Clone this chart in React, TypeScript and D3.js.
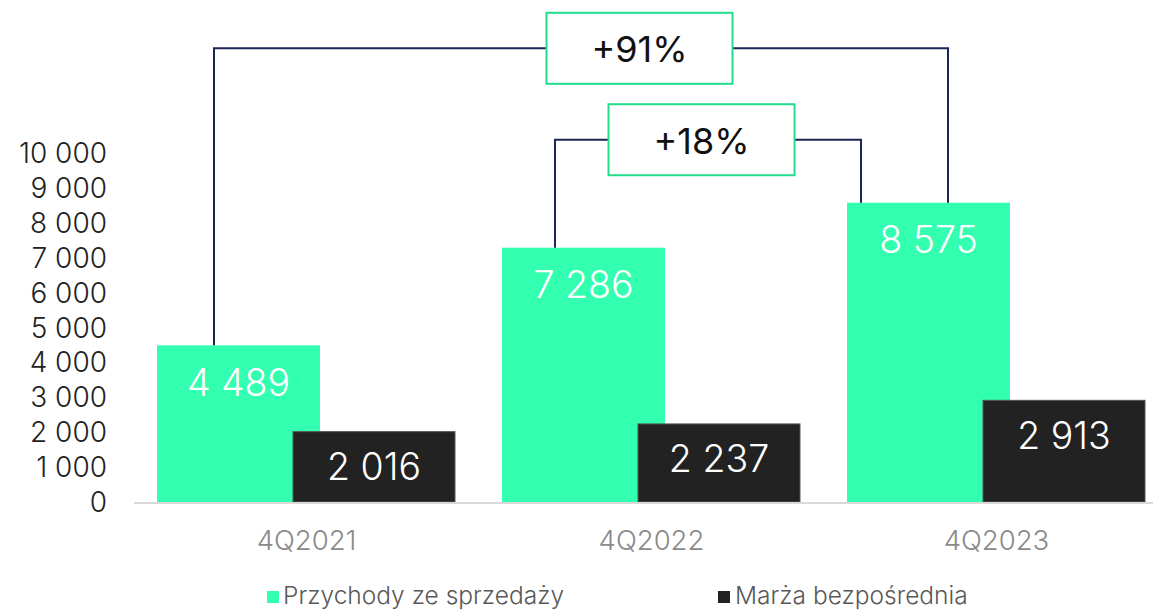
import React from "react";
import * as d3 from "d3";

const categories = ["4Q2021", "4Q2022", "4Q2023"];
const revenue = [4489, 7286, 8575];
const margin = [2016, 2237, 2913];
const yTicks = [0, 1000, 2000, 3000, 4000, 5000, 6000, 7000, 8000, 9000, 10000];
const seriesNames = ["Przychody ze sprzedaży", "Marża bezpośrednia"];
const growthLabels = ["+91%", "+18%"];
const growthFrom = [0, 1];
const growthTo = [2, 2];
const growthLevel = [13000, 10380];

const W = 1153;
const H = 610;
const GREEN = "#33FFB0";
const DARK = "#222222";
const NAVY = "#1B2654";
const BOXSTROKE = "#22DD8C";
const FONT = "Inter, 'Noto Sans', sans-serif";

const fmt = (v: number) => {
  const s = Math.round(v).toString();
  return s.replace(/\B(?=(\d{3})+(?!\d))/g, " ");
};

export default function App() {
  const x = d3.scaleBand<string>().domain(categories).range([134, 1169]).padding(0);
  const y = d3.scaleLinear().domain([0, 10000]).range([502, 153]);
  const bw = x.bandwidth();
  const gx = (i: number) => (x(categories[i]) as number) + bw * (23 / 345);
  const barW = bw * (163 / 345);
  const bx = (i: number) => gx(i) + bw * (136 / 345);
  const blackW = bw * (162 / 345);

  const leftFrac = [57 / 163, 53 / 163];
  const rightFrac = [101 / 163, 14 / 163];
  const boxCenterOffset = [-12 / 345, 50 / 345];
  const boxW = 186;
  const boxH = 71;

  return (
    <svg width={W} height={H} style={{ position: "absolute", left: 0, top: 0, background: "#fff" }} fontFamily={FONT}>
      {yTicks.map((t) => (
        <text key={t} x={107} y={y(t)} textAnchor="end" dominantBaseline="central" fontSize={28} fontWeight={300} fill="#222">
          {fmt(t)}
        </text>
      ))}
      {categories.map((c, i) => (
        <g key={c}>
          <rect x={gx(i)} y={y(revenue[i])} width={barW} height={y(0) - y(revenue[i])} fill={GREEN} />
          <rect x={bx(i)} y={y(margin[i])} width={blackW} height={y(0) - y(margin[i])} fill={DARK} stroke="#555" strokeWidth={1} />
          <text x={gx(i) + barW / 2} y={y(revenue[i]) + 37} textAnchor="middle" dominantBaseline="central" fontSize={37.5} fontWeight={300} fill="#fff">
            {fmt(revenue[i])}
          </text>
          <text x={bx(i) + blackW / 2} y={y(margin[i]) + 35} textAnchor="middle" dominantBaseline="central" fontSize={37.5} fontWeight={300} fill="#fff">
            {fmt(margin[i])}
          </text>
          <text x={(x(c) as number) + bw / 2} y={540} textAnchor="middle" dominantBaseline="central" fontSize={27.5} fontWeight={300} fill="#8a8a8a">
            {c}
          </text>
        </g>
      ))}
      <line x1={134} x2={W} y1={y(0) + 1} y2={y(0) + 1} stroke="#d9d9d9" strokeWidth={2} />
      {growthLabels.map((lab, k) => {
        const a = growthFrom[k];
        const b = growthTo[k];
        const x1 = gx(a) + barW * leftFrac[k];
        const x2 = gx(b) + barW * rightFrac[k];
        const yl = y(growthLevel[k]);
        const cx = (x(categories[1]) as number) + bw / 2 + bw * boxCenterOffset[k];
        return (
          <g key={lab}>
            <path
              d={`M${x1},${y(revenue[a])} V${yl} H${x2} V${y(revenue[b])}`}
              fill="none"
              stroke={NAVY}
              strokeWidth={2}
            />
            <rect x={cx - boxW / 2} y={yl - boxH / 2} width={boxW} height={boxH} fill="#fff" stroke={BOXSTROKE} strokeWidth={2} />
            <text x={cx} y={yl + 1} textAnchor="middle" dominantBaseline="central" fontSize={36} fontWeight={400} fill="#111">
              {lab}
            </text>
          </g>
        );
      })}
      <rect x={267} y={591} width={12} height={12} fill={GREEN} />
      <text x={283} y={595} dominantBaseline="central" fontSize={24.5} fontWeight={300} fill="#595959">
        {seriesNames[0]}
      </text>
      <rect x={718} y={591} width={12} height={12} fill={DARK} />
      <text x={735} y={595} dominantBaseline="central" fontSize={24.5} fontWeight={300} fill="#595959">
        {seriesNames[1]}
      </text>
    </svg>
  );
}
